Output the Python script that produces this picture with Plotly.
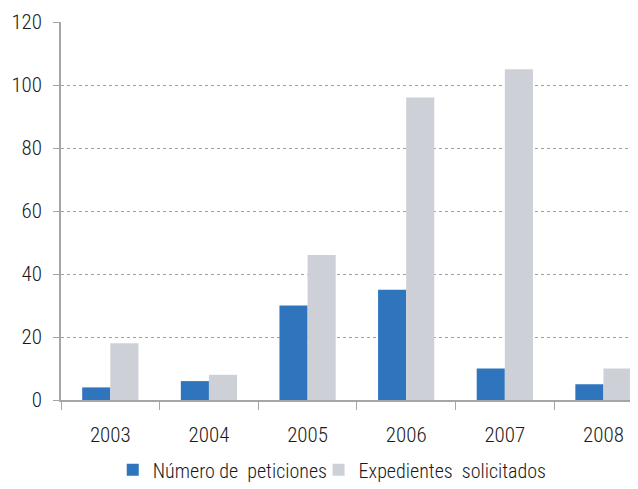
import plotly.graph_objects as go

years = ["2003", "2004", "2005", "2006", "2007", "2008"]
peticiones = [4, 6, 30, 35, 10, 5]
expedientes = [18, 8, 46, 96, 105, 10]

FONT = "Roboto Condensed, Liberation Sans Narrow, Arial Narrow, sans-serif"

fig = go.Figure()
fig.add_trace(go.Bar(x=years, y=peticiones, name="Número de  peticiones",
                     marker_color="#2E75BE", marker_line_width=0, legend="legend"))
fig.add_trace(go.Bar(x=years, y=expedientes, name="Expedientes  solicitados",
                     marker_color="#CDD0D7", marker_line_width=0, legend="legend2"))

leg = dict(orientation="h", xanchor="left", y=-0.133, yanchor="top",
           font=dict(size=20, weight=300), itemwidth=30,
           bgcolor="rgba(0,0,0,0)")

# the page adds an 8px body margin, so the figure is 8px smaller
fig.update_layout(
    width=630, height=481,
    plot_bgcolor="white", paper_bgcolor="white",
    margin=dict(l=53, r=2, t=14, b=89, autoexpand=False),
    barmode="group", bargap=0.43, bargroupgap=0,
    font=dict(family=FONT, size=21, color="#1a1a1a", weight=300),
    legend=dict(leg, x=0.09),
    legend2=dict(leg, x=0.448),
    showlegend=True,
)
fig.update_xaxes(
    range=[-0.5, 5.33], showline=True, linecolor="#A6A6A6", linewidth=1.5,
    ticks="outside", tickson="boundaries", ticklen=8, tickcolor="#A6A6A6",
    showgrid=False, ticklabelstandoff=15,
)
fig.update_yaxes(
    range=[0, 120], dtick=20, showline=True, linecolor="#A6A6A6", linewidth=1.5,
    ticks="outside", ticklen=6, tickcolor="#A6A6A6",
    showgrid=True, gridcolor="#A0A0A0", griddash="3px,3px", gridwidth=1,
    zeroline=False, ticklabelstandoff=7,
)

fig.write_html("out.html")
